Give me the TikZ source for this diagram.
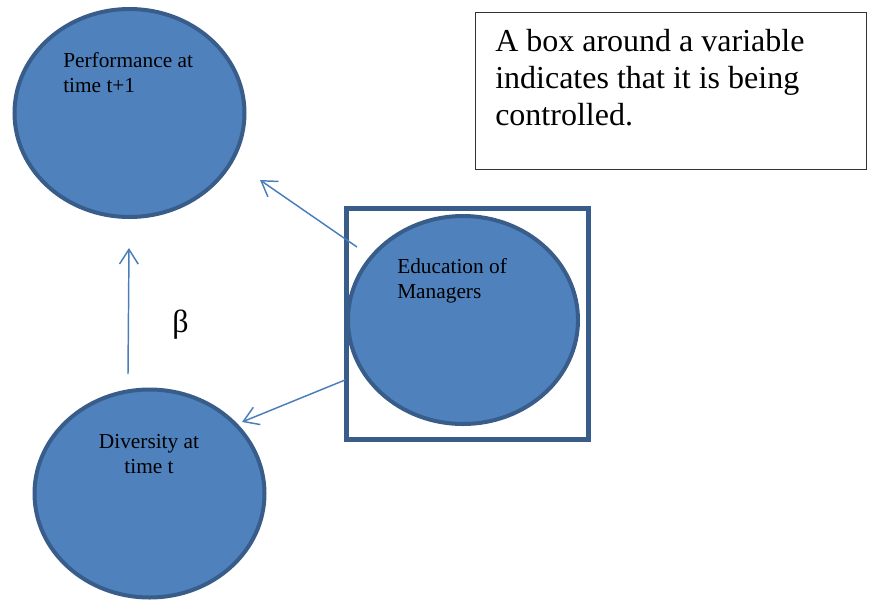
\documentclass[tikz,border=0pt]{standalone}
\usepackage{fontspec}
\setmainfont{Liberation Serif}
\usetikzlibrary{shapes.geometric,arrows.meta}
\definecolor{fillblue}{HTML}{4F81BD}
\definecolor{edgeblue}{HTML}{385D8A}
\definecolor{arrowblue}{HTML}{4A7EBB}
\begin{document}
\begin{tikzpicture}[x=0.75pt,y=-0.75pt,
  var/.style={ellipse,draw=edgeblue,fill=fillblue,line width=3pt,minimum width=172.5pt,minimum height=156pt,inner sep=0pt},
  lbl/.style={font=\fontsize{16}{18.5}\selectfont,inner sep=0pt,text=black},
  notetext/.style={font=\fontsize{24}{27.4}\selectfont,inner sep=0pt,text=black,align=left},
  ctrlbox/.style={draw=edgeblue,line width=3.4pt,minimum width=181.5pt,minimum height=173.25pt,inner sep=0pt},
  notebox/.style={draw=black!80,line width=1pt,minimum width=293pt,minimum height=117.5pt,inner sep=0pt},
  conn/.style={draw=arrowblue,line width=1.1pt,-{Straight Barb[length=11pt,width=14pt]}}]
\useasboundingbox (0,0) rectangle (870,601);
% variables
\node[var] (perf) at (129.5,113) {};
\node[var] (div) at (149.5,493.5) {};
\node[var] (edu) at (463,320) {};
\node[ctrlbox] (ctrl) at (467.5,324) {};
% labels (base anchor = last line's baseline)
\node[lbl,anchor=base west,align=left] (perfT) at (63,92) {Performance at\\time t+1};
\node[lbl,anchor=base,align=center] (divT) at (149,473) {Diversity at\\time t};
\node[lbl,anchor=base west,align=left] (eduT) at (397,298) {Education of\\Managers};
% note
\node[notebox] (note) at (671,91) {};
\node[notetext,anchor=base west] (noteT) at (495,125) {A box around a variable\\indicates that it is being\\controlled.};
% beta
\node[font=\fontsize{24}{24}\selectfont,inner sep=0pt,anchor=base] (beta) at (180.5,332) {β};
% connectors
\coordinate (a1s) at (128,374);
\coordinate (a1e) at (129,248);
\coordinate (a2s) at (357,247);
\coordinate (a2e) at (260,180);
\coordinate (a3s) at (345,380);
\coordinate (a3e) at (242,422);
\draw[conn] (a1s) -- (a1e);
\draw[conn] (a2s) -- (a2e);
\draw[conn] (a3s) -- (a3e);
\end{tikzpicture}
\end{document}
